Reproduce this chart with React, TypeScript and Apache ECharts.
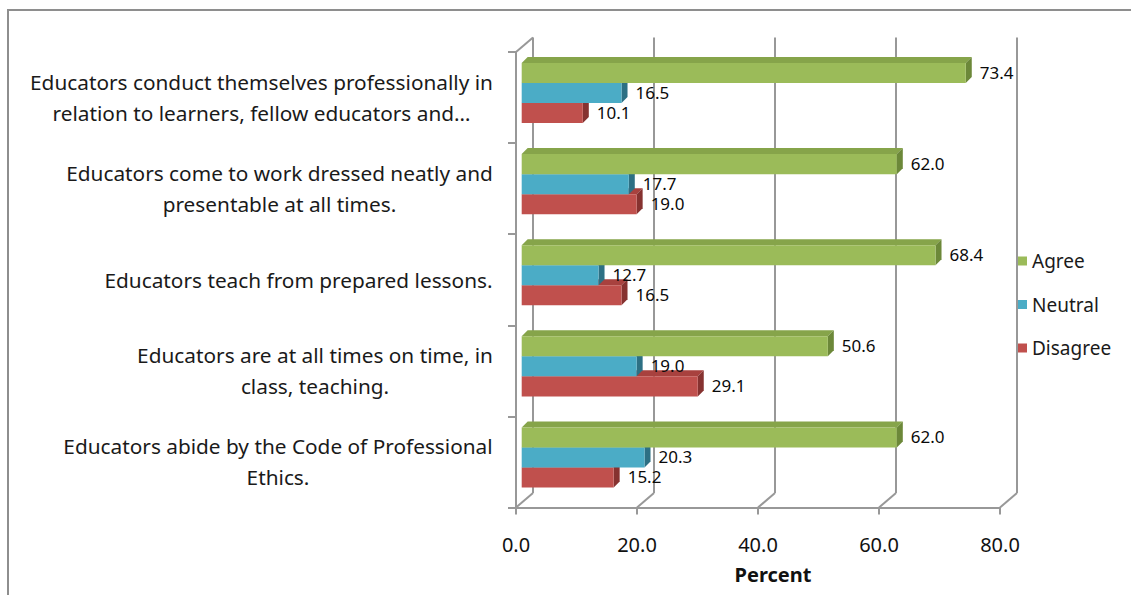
import React, { useEffect, useRef } from "react";
import * as echarts from "echarts";

const categories = [
  "Educators abide by the Code of Professional\nEthics.",
  "Educators are at all times on time, in\nclass, teaching.",
  "Educators teach from prepared lessons.",
  "Educators come to work dressed neatly and\npresentable at all times.",
  "Educators conduct themselves professionally in\nrelation to learners, fellow educators and…",
];
const agree = [62.0, 50.6, 68.4, 62.0, 73.4];
const neutral = [20.3, 19.0, 12.7, 17.7, 16.5];
const disagree = [15.2, 29.1, 16.5, 19.0, 10.1];
const xTicks = [0, 20, 40, 60, 80];
const seriesNames = ["Agree", "Neutral", "Disagree"];
const seriesValues = [agree, neutral, disagree];
const axisName = "Percent";

const FONT = "'Noto Sans', 'Open Sans', sans-serif";
const GRAY = "#989898";
const palette = [
  { front: "#9BBB59", top: "#86A44A", side: "#6C8839" },
  { front: "#4BACC6", top: "#3B93AB", side: "#2D7084" },
  { front: "#C0504D", top: "#A8413E", side: "#863230" },
];
const DEPTH_X = 17;
const DEPTH_Y = -14.5;
const BAR_D = 6;

function measure(text: string, font: string) {
  const ctx = document.createElement("canvas").getContext("2d")!;
  ctx.font = font;
  return ctx.measureText(text).width;
}

export default function App() {
  const ref = useRef<HTMLDivElement>(null);
  useEffect(() => {
    if (!ref.current) return;
    const chart = echarts.init(ref.current, undefined, { renderer: "svg" });

    const catFontSize = 20.8;
    const rich: Record<string, any> = {};
    categories.forEach((c, i) => {
      const w = Math.max(
        ...c.split("\n").map((l) => measure(l, `${catFontSize}px ${FONT}`))
      );
      rich["c" + i] = {
        width: Math.ceil(w) + 2,
        align: "center",
        fontSize: catFontSize,
        fontFamily: FONT,
        lineHeight: 31,
        color: "#1a1a1a",
      };
    });

    const front = { left: 516, top: 52, width: 484, height: 455.5 };

    const barSeries = seriesNames.map((name, k) => ({
      type: "custom",
      name,
      xAxisIndex: 2,
      yAxisIndex: 2,
      z: 3,
      itemStyle: { color: palette[k].front },
      encode: { x: 0, y: 1 },
      data: seriesValues[k].map((v, c) => [v, c]),
      renderItem: (params: any, api: any) => {
        const v = api.value(0);
        const c = api.value(1);
        const p0 = api.coord([0, c]);
        const p1 = api.coord([v, c]);
        const band = api.size([0, 1])[1];
        const t = band * 0.22;
        const yTop = p0[1] - 1.5 * t + k * t;
        const x0 = p0[0];
        const x1 = p1[0];
        const d = BAR_D;
        return {
          type: "group",
          children: [
            {
              type: "polygon",
              shape: { points: [[x0, yTop], [x1, yTop], [x1 + d, yTop - d], [x0 + d, yTop - d]] },
              style: { fill: palette[k].top },
            },
            {
              type: "polygon",
              shape: { points: [[x1, yTop], [x1 + d, yTop - d], [x1 + d, yTop + t - d], [x1, yTop + t]] },
              style: { fill: palette[k].side },
            },
            {
              type: "rect",
              shape: { x: x0, y: yTop, width: x1 - x0, height: t },
              style: { fill: palette[k].front },
            },
          ],
        };
      },
    }));

    const labelData: number[][] = [];
    seriesValues.forEach((arr, k) => arr.forEach((v, c) => labelData.push([v, c, k])));

    const labelSeries = {
      type: "custom",
      name: "labels",
      xAxisIndex: 2,
      yAxisIndex: 2,
      z: 5,
      encode: { x: 0, y: 1 },
      data: labelData,
      renderItem: (params: any, api: any) => {
        const v = api.value(0);
        const c = api.value(1);
        const k = api.value(2);
        const p0 = api.coord([0, c]);
        const p1 = api.coord([v, c]);
        const band = api.size([0, 1])[1];
        const t = band * 0.22;
        const yTop = p0[1] - 1.5 * t + k * t;
        return {
          type: "text",
          style: {
            text: v.toFixed(1),
            x: p1[0] + 14,
            y: yTop + t / 2 - 1,
            verticalAlign: "middle",
            align: "left",
            fontSize: 17,
            fontFamily: FONT,
            fill: "#0a0a0a",
          },
        };
      },
    };

    const wallSeries = {
      type: "custom",
      name: "walls",
      xAxisIndex: 0,
      yAxisIndex: 0,
      z: 1,
      encode: { x: 0, y: 1 },
      data: xTicks.map((v) => [v, 0]),
      renderItem: (params: any, api: any) => {
        const v = api.value(0);
        const cs = params.coordSys;
        const x = api.coord([v, 0])[0];
        const yb = cs.y + cs.height;
        const children: any[] = [
          {
            type: "line",
            shape: { x1: x, y1: yb, x2: x + DEPTH_X, y2: yb + DEPTH_Y },
            style: { stroke: GRAY, lineWidth: 2 },
          },
        ];
        if (v === xTicks[0]) {
          children.push({
            type: "line",
            shape: { x1: cs.x, y1: cs.y, x2: cs.x + DEPTH_X, y2: cs.y + DEPTH_Y },
            style: { stroke: GRAY, lineWidth: 2 },
          });
        }
        return { type: "group", children };
      },
    };

    chart.setOption({
      animation: false,
      textStyle: { fontFamily: FONT },
      grid: [
        { ...front },
        { left: front.left + DEPTH_X, top: front.top + DEPTH_Y, width: front.width, height: front.height },
        { left: front.left + 5.7, top: front.top - 4.5, width: front.width, height: front.height },
      ],
      xAxis: [
        {
          gridIndex: 0,
          type: "value",
          min: 0,
          max: 80,
          interval: 20,
          axisLine: { show: true, lineStyle: { color: GRAY, width: 2 } },
          axisTick: { show: true, length: 7, lineStyle: { color: GRAY, width: 2 } },
          splitLine: { show: false },
          axisLabel: {
            margin: 27,
            fontSize: 20,
            fontFamily: FONT,
            color: "#111",
            formatter: (v: number) => v.toFixed(1),
          },
          name: axisName,
          nameLocation: "middle",
          nameGap: 57,
          nameTextStyle: {
            fontSize: 20,
            fontWeight: "bold",
            fontFamily: FONT,
            color: "#111",
            padding: [0, 0, 0, 30],
          },
        },
        {
          gridIndex: 1,
          type: "value",
          min: 0,
          max: 80,
          interval: 20,
          axisLine: { show: false },
          axisTick: { show: false },
          axisLabel: { show: false },
          splitLine: { show: true, lineStyle: { color: GRAY, width: 2 } },
        },
        {
          gridIndex: 2,
          type: "value",
          min: 0,
          max: 80,
          interval: 20,
          show: false,
        },
      ],
      yAxis: [
        {
          gridIndex: 0,
          type: "category",
          data: categories,
          axisLine: { show: true, lineStyle: { color: GRAY, width: 2 } },
          axisTick: { show: true, length: 8, lineStyle: { color: GRAY, width: 2 } },
          splitLine: { show: false },
          axisLabel: {
            interval: 0,
            margin: 22,
            align: "right",
            rich,
            formatter: (value: string, index: number) =>
              value
                .split("\n")
                .map((l) => `{c${index}|${l}}`)
                .join("\n"),
          },
        },
        {
          gridIndex: 1,
          type: "category",
          data: categories,
          show: false,
        },
        {
          gridIndex: 2,
          type: "category",
          data: categories,
          show: false,
        },
      ],
      legend: {
        orient: "vertical",
        left: 1013,
        top: 246,
        data: seriesNames,
        icon: "rect",
        itemWidth: 9,
        itemHeight: 9,
        itemGap: 23.5,
        textStyle: { fontFamily: FONT, fontSize: 19, lineHeight: 20, color: "#1a1a1a" },
      },
      graphic: [
        {
          type: "rect",
          shape: { x: 8, y: 10, width: 1300, height: 800 },
          style: { fill: "none", stroke: "#8E8E8E", lineWidth: 2 },
          z: 0,
          silent: true,
        },
      ],
      series: [wallSeries, ...[...barSeries].reverse(), labelSeries],
    });
    return () => chart.dispose();
  }, []);
  return (
    <div
      ref={ref}
      style={{ position: "absolute", left: 0, top: 0, width: 1131, height: 595 }}
    />
  );
}
